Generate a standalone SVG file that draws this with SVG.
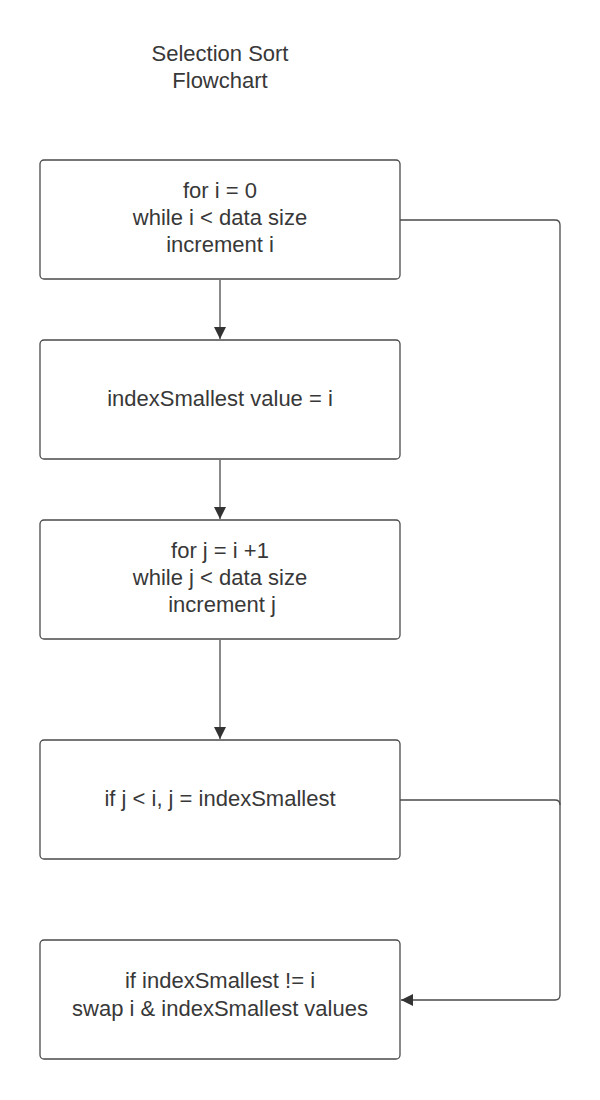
<svg xmlns="http://www.w3.org/2000/svg" width="600" height="1100" viewBox="0 0 600 1100">
<style>
.box{fill:#fff;stroke:#4a4a4a;stroke-width:1.3}
.t{font-family:"Liberation Sans",Arial,sans-serif;font-size:22px;fill:#383838;text-anchor:middle}
.c{fill:none;stroke:#4a4a4a;stroke-width:1.3}
</style>
<defs>
<marker id="ah" viewBox="0 0 10 10" refX="10" refY="5" markerWidth="12" markerHeight="12" markerUnits="userSpaceOnUse" orient="auto">
<path d="M0,0 L10,5 L0,10 z" fill="#333"/>
</marker>
</defs>
<rect width="600" height="1100" fill="#fff"/>
<g id="title">
<text class="t" x="220" y="61">Selection Sort</text>
<text class="t" x="220" y="88">Flowchart</text>
</g>
<g id="connectors">
<path class="c" d="M220,280 V339" marker-end="url(#ah)"/>
<path class="c" d="M220,460 V519" marker-end="url(#ah)"/>
<path class="c" d="M220,640 V739" marker-end="url(#ah)"/>
<path class="c" d="M400,220 H555 Q560,220 560,225 V995 Q560,1000 555,1000 H401" marker-end="url(#ah)"/>
<path class="c" d="M400,800 H555 Q560,800 560,805"/>
</g>
<g id="n1">
<rect class="box" x="40" y="160" width="360" height="119" rx="4"/>
<text class="t" x="220" y="198">for i = 0</text>
<text class="t" x="220" y="225">while i &lt; data size</text>
<text class="t" x="220" y="252">increment i</text>
</g>
<g id="n2">
<rect class="box" x="40" y="340" width="360" height="119" rx="4"/>
<text class="t" x="220" y="406">indexSmallest value = i</text>
</g>
<g id="n3">
<rect class="box" x="40" y="520" width="360" height="119" rx="4"/>
<text class="t" x="220" y="558">for j = i +1</text>
<text class="t" x="220" y="585">while j &lt; data size</text>
<text class="t" x="222" y="612">increment j</text>
</g>
<g id="n4">
<rect class="box" x="40" y="740" width="360" height="119" rx="4"/>
<text class="t" x="220" y="806">if j &lt; i, j = indexSmallest</text>
</g>
<g id="n5">
<rect class="box" x="40" y="940" width="360" height="119" rx="4"/>
<text class="t" x="220" y="988">if indexSmallest != i</text>
<text class="t" x="220" y="1016">swap i &amp; indexSmallest values</text>
</g>
</svg>
